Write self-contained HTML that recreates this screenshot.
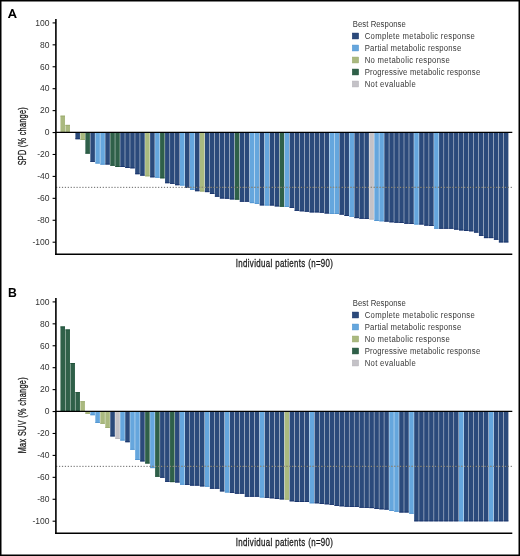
<!DOCTYPE html>
<html><head><meta charset="utf-8"><style>
html,body{margin:0;padding:0;background:#fff;}
body{width:520px;height:556px;overflow:hidden;}
svg{display:block;will-change:transform;}
</style></head><body>
<svg width="520" height="556" viewBox="0 0 520 556">
<rect x="0" y="0" width="520" height="556" fill="#fff"/>
<path fill-rule="evenodd" fill="#000" d="M7.9,17.9 L11.5,8.9 L13.2,8.9 L16.8,17.9 L14.8,17.9 L14.1,16.0 L10.6,16.0 L9.9,17.9 Z M11.15,14.5 L13.55,14.5 L12.35,11.1 Z"/>
<rect x="60.45" y="115.70" width="4.55" height="16.70" fill="#aab97f"/><rect x="60.45" y="115.70" width="4.55" height="0.8" fill="#98a86c"/>
<rect x="65.43" y="124.90" width="4.55" height="7.50" fill="#aab97f"/><rect x="65.43" y="124.90" width="4.55" height="0.8" fill="#98a86c"/>
<rect x="75.40" y="132.40" width="4.55" height="6.80" fill="#2b4a7b"/><rect x="75.40" y="138.40" width="4.55" height="0.8" fill="#16306a"/>
<rect x="80.38" y="132.40" width="4.55" height="7.50" fill="#aab97f"/><rect x="80.38" y="139.10" width="4.55" height="0.8" fill="#98a86c"/>
<rect x="85.36" y="132.40" width="4.55" height="21.20" fill="#2f6049"/><rect x="85.36" y="152.80" width="4.55" height="0.8" fill="#1e5038"/>
<rect x="90.34" y="132.40" width="4.55" height="29.40" fill="#2b4a7b"/><rect x="90.34" y="161.00" width="4.55" height="0.8" fill="#16306a"/>
<rect x="95.32" y="132.40" width="4.55" height="31.10" fill="#65a6dd"/><rect x="95.32" y="162.70" width="4.55" height="0.8" fill="#4f93d0"/>
<rect x="100.31" y="132.40" width="4.55" height="32.20" fill="#65a6dd"/><rect x="100.31" y="163.80" width="4.55" height="0.8" fill="#4f93d0"/>
<rect x="105.29" y="132.40" width="4.55" height="32.10" fill="#2b4a7b"/><rect x="105.29" y="163.70" width="4.55" height="0.8" fill="#16306a"/>
<rect x="110.27" y="132.40" width="4.55" height="33.30" fill="#2f6049"/><rect x="110.27" y="164.90" width="4.55" height="0.8" fill="#1e5038"/>
<rect x="115.25" y="132.40" width="4.55" height="34.60" fill="#2f6049"/><rect x="115.25" y="166.20" width="4.55" height="0.8" fill="#1e5038"/>
<rect x="120.23" y="132.40" width="4.55" height="34.60" fill="#2b4a7b"/><rect x="120.23" y="166.20" width="4.55" height="0.8" fill="#16306a"/>
<rect x="125.22" y="132.40" width="4.55" height="35.60" fill="#2b4a7b"/><rect x="125.22" y="167.20" width="4.55" height="0.8" fill="#16306a"/>
<rect x="130.20" y="132.40" width="4.55" height="35.90" fill="#2b4a7b"/><rect x="130.20" y="167.50" width="4.55" height="0.8" fill="#16306a"/>
<rect x="135.18" y="132.40" width="4.55" height="41.80" fill="#2b4a7b"/><rect x="135.18" y="173.40" width="4.55" height="0.8" fill="#16306a"/>
<rect x="140.16" y="132.40" width="4.55" height="43.20" fill="#2b4a7b"/><rect x="140.16" y="174.80" width="4.55" height="0.8" fill="#16306a"/>
<rect x="145.14" y="132.40" width="4.55" height="43.90" fill="#aab97f"/><rect x="145.14" y="175.50" width="4.55" height="0.8" fill="#98a86c"/>
<rect x="150.13" y="132.40" width="4.55" height="44.90" fill="#2b4a7b"/><rect x="150.13" y="176.50" width="4.55" height="0.8" fill="#16306a"/>
<rect x="155.11" y="132.40" width="4.55" height="45.30" fill="#65a6dd"/><rect x="155.11" y="176.90" width="4.55" height="0.8" fill="#4f93d0"/>
<rect x="160.09" y="132.40" width="4.55" height="45.90" fill="#2f6049"/><rect x="160.09" y="177.50" width="4.55" height="0.8" fill="#1e5038"/>
<rect x="165.07" y="132.40" width="4.55" height="50.80" fill="#2b4a7b"/><rect x="165.07" y="182.40" width="4.55" height="0.8" fill="#16306a"/>
<rect x="170.05" y="132.40" width="4.55" height="51.40" fill="#2b4a7b"/><rect x="170.05" y="183.00" width="4.55" height="0.8" fill="#16306a"/>
<rect x="175.04" y="132.40" width="4.55" height="52.80" fill="#2b4a7b"/><rect x="175.04" y="184.40" width="4.55" height="0.8" fill="#16306a"/>
<rect x="180.02" y="132.40" width="4.55" height="53.10" fill="#65a6dd"/><rect x="180.02" y="184.70" width="4.55" height="0.8" fill="#4f93d0"/>
<rect x="185.00" y="132.40" width="4.55" height="55.40" fill="#2b4a7b"/><rect x="185.00" y="187.00" width="4.55" height="0.8" fill="#16306a"/>
<rect x="189.98" y="132.40" width="4.55" height="57.40" fill="#65a6dd"/><rect x="189.98" y="189.00" width="4.55" height="0.8" fill="#4f93d0"/>
<rect x="194.96" y="132.40" width="4.55" height="58.80" fill="#2b4a7b"/><rect x="194.96" y="190.40" width="4.55" height="0.8" fill="#16306a"/>
<rect x="199.95" y="132.40" width="4.55" height="59.10" fill="#aab97f"/><rect x="199.95" y="190.70" width="4.55" height="0.8" fill="#98a86c"/>
<rect x="204.93" y="132.40" width="4.55" height="59.70" fill="#2b4a7b"/><rect x="204.93" y="191.30" width="4.55" height="0.8" fill="#16306a"/>
<rect x="209.91" y="132.40" width="4.55" height="61.60" fill="#2b4a7b"/><rect x="209.91" y="193.20" width="4.55" height="0.8" fill="#16306a"/>
<rect x="214.89" y="132.40" width="4.55" height="64.30" fill="#2b4a7b"/><rect x="214.89" y="195.90" width="4.55" height="0.8" fill="#16306a"/>
<rect x="219.87" y="132.40" width="4.55" height="66.10" fill="#2b4a7b"/><rect x="219.87" y="197.70" width="4.55" height="0.8" fill="#16306a"/>
<rect x="224.86" y="132.40" width="4.55" height="66.30" fill="#2b4a7b"/><rect x="224.86" y="197.90" width="4.55" height="0.8" fill="#16306a"/>
<rect x="229.84" y="132.40" width="4.55" height="67.00" fill="#2b4a7b"/><rect x="229.84" y="198.60" width="4.55" height="0.8" fill="#16306a"/>
<rect x="234.82" y="132.40" width="4.55" height="67.20" fill="#2f6049"/><rect x="234.82" y="198.80" width="4.55" height="0.8" fill="#1e5038"/>
<rect x="239.80" y="132.40" width="4.55" height="69.30" fill="#2b4a7b"/><rect x="239.80" y="200.90" width="4.55" height="0.8" fill="#16306a"/>
<rect x="244.78" y="132.40" width="4.55" height="69.30" fill="#2b4a7b"/><rect x="244.78" y="200.90" width="4.55" height="0.8" fill="#16306a"/>
<rect x="249.77" y="132.40" width="4.55" height="70.70" fill="#65a6dd"/><rect x="249.77" y="202.30" width="4.55" height="0.8" fill="#4f93d0"/>
<rect x="254.75" y="132.40" width="4.55" height="71.50" fill="#65a6dd"/><rect x="254.75" y="203.10" width="4.55" height="0.8" fill="#4f93d0"/>
<rect x="259.73" y="132.40" width="4.55" height="73.00" fill="#2b4a7b"/><rect x="259.73" y="204.60" width="4.55" height="0.8" fill="#16306a"/>
<rect x="264.71" y="132.40" width="4.55" height="73.10" fill="#65a6dd"/><rect x="264.71" y="204.70" width="4.55" height="0.8" fill="#4f93d0"/>
<rect x="269.69" y="132.40" width="4.55" height="73.10" fill="#2b4a7b"/><rect x="269.69" y="204.70" width="4.55" height="0.8" fill="#16306a"/>
<rect x="274.68" y="132.40" width="4.55" height="74.00" fill="#2b4a7b"/><rect x="274.68" y="205.60" width="4.55" height="0.8" fill="#16306a"/>
<rect x="279.66" y="132.40" width="4.55" height="74.30" fill="#2f6049"/><rect x="279.66" y="205.90" width="4.55" height="0.8" fill="#1e5038"/>
<rect x="284.64" y="132.40" width="4.55" height="74.60" fill="#65a6dd"/><rect x="284.64" y="206.20" width="4.55" height="0.8" fill="#4f93d0"/>
<rect x="289.62" y="132.40" width="4.55" height="75.50" fill="#2b4a7b"/><rect x="289.62" y="207.10" width="4.55" height="0.8" fill="#16306a"/>
<rect x="294.60" y="132.40" width="4.55" height="78.40" fill="#2b4a7b"/><rect x="294.60" y="210.00" width="4.55" height="0.8" fill="#16306a"/>
<rect x="299.59" y="132.40" width="4.55" height="78.90" fill="#2b4a7b"/><rect x="299.59" y="210.50" width="4.55" height="0.8" fill="#16306a"/>
<rect x="304.57" y="132.40" width="4.55" height="79.30" fill="#2b4a7b"/><rect x="304.57" y="210.90" width="4.55" height="0.8" fill="#16306a"/>
<rect x="309.55" y="132.40" width="4.55" height="80.00" fill="#2b4a7b"/><rect x="309.55" y="211.60" width="4.55" height="0.8" fill="#16306a"/>
<rect x="314.53" y="132.40" width="4.55" height="80.00" fill="#2b4a7b"/><rect x="314.53" y="211.60" width="4.55" height="0.8" fill="#16306a"/>
<rect x="319.51" y="132.40" width="4.55" height="80.30" fill="#2b4a7b"/><rect x="319.51" y="211.90" width="4.55" height="0.8" fill="#16306a"/>
<rect x="324.50" y="132.40" width="4.55" height="81.10" fill="#2b4a7b"/><rect x="324.50" y="212.70" width="4.55" height="0.8" fill="#16306a"/>
<rect x="329.48" y="132.40" width="4.55" height="81.40" fill="#65a6dd"/><rect x="329.48" y="213.00" width="4.55" height="0.8" fill="#4f93d0"/>
<rect x="334.46" y="132.40" width="4.55" height="81.60" fill="#65a6dd"/><rect x="334.46" y="213.20" width="4.55" height="0.8" fill="#4f93d0"/>
<rect x="339.44" y="132.40" width="4.55" height="82.20" fill="#2b4a7b"/><rect x="339.44" y="213.80" width="4.55" height="0.8" fill="#16306a"/>
<rect x="344.42" y="132.40" width="4.55" height="83.60" fill="#2b4a7b"/><rect x="344.42" y="215.20" width="4.55" height="0.8" fill="#16306a"/>
<rect x="349.41" y="132.40" width="4.55" height="84.30" fill="#65a6dd"/><rect x="349.41" y="215.90" width="4.55" height="0.8" fill="#4f93d0"/>
<rect x="354.39" y="132.40" width="4.55" height="85.70" fill="#2b4a7b"/><rect x="354.39" y="217.30" width="4.55" height="0.8" fill="#16306a"/>
<rect x="359.37" y="132.40" width="4.55" height="86.30" fill="#2b4a7b"/><rect x="359.37" y="217.90" width="4.55" height="0.8" fill="#16306a"/>
<rect x="364.35" y="132.40" width="4.55" height="86.50" fill="#2b4a7b"/><rect x="364.35" y="218.10" width="4.55" height="0.8" fill="#16306a"/>
<rect x="369.33" y="132.40" width="4.55" height="87.10" fill="#c4c2c7"/><rect x="369.33" y="218.70" width="4.55" height="0.8" fill="#b4b2b8"/>
<rect x="374.32" y="132.40" width="4.55" height="88.60" fill="#65a6dd"/><rect x="374.32" y="220.20" width="4.55" height="0.8" fill="#4f93d0"/>
<rect x="379.30" y="132.40" width="4.55" height="88.90" fill="#65a6dd"/><rect x="379.30" y="220.50" width="4.55" height="0.8" fill="#4f93d0"/>
<rect x="384.28" y="132.40" width="4.55" height="89.20" fill="#2b4a7b"/><rect x="384.28" y="220.80" width="4.55" height="0.8" fill="#16306a"/>
<rect x="389.26" y="132.40" width="4.55" height="89.90" fill="#2b4a7b"/><rect x="389.26" y="221.50" width="4.55" height="0.8" fill="#16306a"/>
<rect x="394.24" y="132.40" width="4.55" height="90.30" fill="#2b4a7b"/><rect x="394.24" y="221.90" width="4.55" height="0.8" fill="#16306a"/>
<rect x="399.23" y="132.40" width="4.55" height="90.60" fill="#2b4a7b"/><rect x="399.23" y="222.20" width="4.55" height="0.8" fill="#16306a"/>
<rect x="404.21" y="132.40" width="4.55" height="91.30" fill="#2b4a7b"/><rect x="404.21" y="222.90" width="4.55" height="0.8" fill="#16306a"/>
<rect x="409.19" y="132.40" width="4.55" height="91.50" fill="#2b4a7b"/><rect x="409.19" y="223.10" width="4.55" height="0.8" fill="#16306a"/>
<rect x="414.17" y="132.40" width="4.55" height="92.10" fill="#65a6dd"/><rect x="414.17" y="223.70" width="4.55" height="0.8" fill="#4f93d0"/>
<rect x="419.15" y="132.40" width="4.55" height="92.10" fill="#2b4a7b"/><rect x="419.15" y="223.70" width="4.55" height="0.8" fill="#16306a"/>
<rect x="424.14" y="132.40" width="4.55" height="93.20" fill="#2b4a7b"/><rect x="424.14" y="224.80" width="4.55" height="0.8" fill="#16306a"/>
<rect x="429.12" y="132.40" width="4.55" height="93.60" fill="#2b4a7b"/><rect x="429.12" y="225.20" width="4.55" height="0.8" fill="#16306a"/>
<rect x="434.10" y="132.40" width="4.55" height="96.30" fill="#65a6dd"/><rect x="434.10" y="227.90" width="4.55" height="0.8" fill="#4f93d0"/>
<rect x="439.08" y="132.40" width="4.55" height="96.30" fill="#2b4a7b"/><rect x="439.08" y="227.90" width="4.55" height="0.8" fill="#16306a"/>
<rect x="444.06" y="132.40" width="4.55" height="96.30" fill="#2b4a7b"/><rect x="444.06" y="227.90" width="4.55" height="0.8" fill="#16306a"/>
<rect x="449.05" y="132.40" width="4.55" height="96.30" fill="#2b4a7b"/><rect x="449.05" y="227.90" width="4.55" height="0.8" fill="#16306a"/>
<rect x="454.03" y="132.40" width="4.55" height="97.20" fill="#2b4a7b"/><rect x="454.03" y="228.80" width="4.55" height="0.8" fill="#16306a"/>
<rect x="459.01" y="132.40" width="4.55" height="98.00" fill="#2b4a7b"/><rect x="459.01" y="229.60" width="4.55" height="0.8" fill="#16306a"/>
<rect x="463.99" y="132.40" width="4.55" height="98.60" fill="#2b4a7b"/><rect x="463.99" y="230.20" width="4.55" height="0.8" fill="#16306a"/>
<rect x="468.97" y="132.40" width="4.55" height="98.90" fill="#2b4a7b"/><rect x="468.97" y="230.50" width="4.55" height="0.8" fill="#16306a"/>
<rect x="473.96" y="132.40" width="4.55" height="100.20" fill="#2b4a7b"/><rect x="473.96" y="231.80" width="4.55" height="0.8" fill="#16306a"/>
<rect x="478.94" y="132.40" width="4.55" height="103.40" fill="#2b4a7b"/><rect x="478.94" y="235.00" width="4.55" height="0.8" fill="#16306a"/>
<rect x="483.92" y="132.40" width="4.55" height="105.70" fill="#2b4a7b"/><rect x="483.92" y="237.30" width="4.55" height="0.8" fill="#16306a"/>
<rect x="488.90" y="132.40" width="4.55" height="105.70" fill="#2b4a7b"/><rect x="488.90" y="237.30" width="4.55" height="0.8" fill="#16306a"/>
<rect x="493.88" y="132.40" width="4.55" height="107.30" fill="#2b4a7b"/><rect x="493.88" y="238.90" width="4.55" height="0.8" fill="#16306a"/>
<rect x="498.87" y="132.40" width="4.55" height="110.00" fill="#2b4a7b"/><rect x="498.87" y="241.60" width="4.55" height="0.8" fill="#16306a"/>
<rect x="503.85" y="132.40" width="4.55" height="110.00" fill="#2b4a7b"/><rect x="503.85" y="241.60" width="4.55" height="0.8" fill="#16306a"/>
<line x1="56.1" y1="187.35" x2="512" y2="187.35" stroke="#5e5e5e" stroke-width="0.95" stroke-dasharray="1.2 1.714"/>
<line x1="56.1" y1="187.35" x2="512" y2="187.35" stroke="#9a9480" stroke-width="0.95" stroke-dasharray="1.2 1.714" clip-path="url(#clipA)"/>
<clipPath id="clipA"><rect x="185.00" y="180" width="323.40" height="15"/></clipPath>
<line x1="56" y1="132.4" x2="512.3" y2="132.4" stroke="#000" stroke-width="1.3"/>
<line x1="55.9" y1="19" x2="55.9" y2="255.1" stroke="#000" stroke-width="1.6"/>
<line x1="55.1" y1="254.3" x2="512.3" y2="254.3" stroke="#000" stroke-width="1.6"/>
<line x1="52.6" y1="22.90" x2="56" y2="22.90" stroke="#000" stroke-width="1.1"/>
<text transform="translate(49.5,25.70) scale(0.96,1.04)" text-anchor="end" font-family="Liberation Sans" font-size="8.9" fill="#333">100</text>
<line x1="52.6" y1="44.83" x2="56" y2="44.83" stroke="#000" stroke-width="1.1"/>
<text transform="translate(49.5,47.63) scale(0.96,1.04)" text-anchor="end" font-family="Liberation Sans" font-size="8.9" fill="#333">80</text>
<line x1="52.6" y1="66.76" x2="56" y2="66.76" stroke="#000" stroke-width="1.1"/>
<text transform="translate(49.5,69.56) scale(0.96,1.04)" text-anchor="end" font-family="Liberation Sans" font-size="8.9" fill="#333">60</text>
<line x1="52.6" y1="88.69" x2="56" y2="88.69" stroke="#000" stroke-width="1.1"/>
<text transform="translate(49.5,91.49) scale(0.96,1.04)" text-anchor="end" font-family="Liberation Sans" font-size="8.9" fill="#333">40</text>
<line x1="52.6" y1="110.62" x2="56" y2="110.62" stroke="#000" stroke-width="1.1"/>
<text transform="translate(49.5,113.42) scale(0.96,1.04)" text-anchor="end" font-family="Liberation Sans" font-size="8.9" fill="#333">20</text>
<line x1="52.6" y1="132.55" x2="56" y2="132.55" stroke="#000" stroke-width="1.1"/>
<text transform="translate(49.5,135.35) scale(0.96,1.04)" text-anchor="end" font-family="Liberation Sans" font-size="8.9" fill="#333">0</text>
<line x1="52.6" y1="154.48" x2="56" y2="154.48" stroke="#000" stroke-width="1.1"/>
<text transform="translate(49.5,157.28) scale(0.96,1.04)" text-anchor="end" font-family="Liberation Sans" font-size="8.9" fill="#333">-20</text>
<line x1="52.6" y1="176.41" x2="56" y2="176.41" stroke="#000" stroke-width="1.1"/>
<text transform="translate(49.5,179.21) scale(0.96,1.04)" text-anchor="end" font-family="Liberation Sans" font-size="8.9" fill="#333">-40</text>
<line x1="52.6" y1="198.34" x2="56" y2="198.34" stroke="#000" stroke-width="1.1"/>
<text transform="translate(49.5,201.14) scale(0.96,1.04)" text-anchor="end" font-family="Liberation Sans" font-size="8.9" fill="#333">-60</text>
<line x1="52.6" y1="220.27" x2="56" y2="220.27" stroke="#000" stroke-width="1.1"/>
<text transform="translate(49.5,223.07) scale(0.96,1.04)" text-anchor="end" font-family="Liberation Sans" font-size="8.9" fill="#333">-80</text>
<line x1="52.6" y1="242.20" x2="56" y2="242.20" stroke="#000" stroke-width="1.1"/>
<text transform="translate(49.5,245.00) scale(0.96,1.04)" text-anchor="end" font-family="Liberation Sans" font-size="8.9" fill="#333">-100</text>
<text transform="translate(26,136.3) rotate(-90) scale(0.66,1)" text-anchor="middle" font-family="Liberation Sans" font-size="11" fill="#1a1a1a" stroke="#1a1a1a" stroke-width="0.3" textLength="87.88" lengthAdjust="spacing">SPD (% change)</text>
<text transform="translate(235.7,267.1) scale(0.72,1)" x="0" y="0" font-family="Liberation Sans" font-size="11" fill="#1a1a1a" stroke="#1a1a1a" stroke-width="0.3" textLength="135.14" lengthAdjust="spacing">Individual patients (n=90)</text>
<text transform="translate(352.8,26.6) scale(0.85,1)" font-family="Liberation Sans" font-size="9.1" fill="#383838" textLength="62.35" lengthAdjust="spacing">Best Response</text>
<rect x="352.3" y="33.05" width="6.3" height="5.9" fill="#2b4a7b" stroke="#16306a" stroke-width="0.5"/>
<text transform="translate(364.7,38.90) scale(0.85,1)" font-family="Liberation Sans" font-size="9.1" fill="#383838" textLength="129.41" lengthAdjust="spacing">Complete metabolic response</text>
<rect x="352.3" y="45.05" width="6.3" height="5.9" fill="#65a6dd" stroke="#4f93d0" stroke-width="0.5"/>
<text transform="translate(364.7,50.90) scale(0.85,1)" font-family="Liberation Sans" font-size="9.1" fill="#383838" textLength="113.53" lengthAdjust="spacing">Partial metabolic response</text>
<rect x="352.3" y="57.05" width="6.3" height="5.9" fill="#aab97f" stroke="#98a86c" stroke-width="0.5"/>
<text transform="translate(364.7,62.90) scale(0.85,1)" font-family="Liberation Sans" font-size="9.1" fill="#383838" textLength="100.00" lengthAdjust="spacing">No metabolic response</text>
<rect x="352.3" y="69.05" width="6.3" height="5.9" fill="#2f6049" stroke="#1e5038" stroke-width="0.5"/>
<text transform="translate(364.7,74.90) scale(0.85,1)" font-family="Liberation Sans" font-size="9.1" fill="#383838" textLength="135.88" lengthAdjust="spacing">Progressive metabolic response</text>
<rect x="352.3" y="81.05" width="6.3" height="5.9" fill="#c4c2c7" stroke="#b4b2b8" stroke-width="0.5"/>
<text transform="translate(364.7,86.90) scale(0.85,1)" font-family="Liberation Sans" font-size="9.1" fill="#383838" textLength="60.00" lengthAdjust="spacing">Not evaluable</text>
<text x="7.9" y="297.1" font-family="Liberation Sans" font-weight="bold" font-size="12.2" fill="#000">B</text>
<rect x="60.45" y="326.50" width="4.55" height="84.90" fill="#2f6049"/><rect x="60.45" y="326.50" width="4.55" height="0.8" fill="#1e5038"/>
<rect x="65.43" y="329.50" width="4.55" height="81.90" fill="#2f6049"/><rect x="65.43" y="329.50" width="4.55" height="0.8" fill="#1e5038"/>
<rect x="70.41" y="363.00" width="4.55" height="48.40" fill="#2f6049"/><rect x="70.41" y="363.00" width="4.55" height="0.8" fill="#1e5038"/>
<rect x="75.40" y="392.20" width="4.55" height="19.20" fill="#2f6049"/><rect x="75.40" y="392.20" width="4.55" height="0.8" fill="#1e5038"/>
<rect x="80.38" y="401.30" width="4.55" height="10.10" fill="#aab97f"/><rect x="80.38" y="401.30" width="4.55" height="0.8" fill="#98a86c"/>
<rect x="85.36" y="411.40" width="4.55" height="2.30" fill="#aab97f"/><rect x="85.36" y="412.90" width="4.55" height="0.8" fill="#98a86c"/>
<rect x="90.34" y="411.40" width="4.55" height="3.80" fill="#65a6dd"/><rect x="90.34" y="414.40" width="4.55" height="0.8" fill="#4f93d0"/>
<rect x="95.32" y="411.40" width="4.55" height="11.50" fill="#65a6dd"/><rect x="95.32" y="422.10" width="4.55" height="0.8" fill="#4f93d0"/>
<rect x="100.31" y="411.40" width="4.55" height="12.30" fill="#aab97f"/><rect x="100.31" y="422.90" width="4.55" height="0.8" fill="#98a86c"/>
<rect x="105.29" y="411.40" width="4.55" height="16.40" fill="#aab97f"/><rect x="105.29" y="427.00" width="4.55" height="0.8" fill="#98a86c"/>
<rect x="110.27" y="411.40" width="4.55" height="25.00" fill="#2b4a7b"/><rect x="110.27" y="435.60" width="4.55" height="0.8" fill="#16306a"/>
<rect x="115.25" y="411.40" width="4.55" height="27.40" fill="#c4c2c7"/><rect x="115.25" y="438.00" width="4.55" height="0.8" fill="#b4b2b8"/>
<rect x="120.23" y="411.40" width="4.55" height="29.10" fill="#65a6dd"/><rect x="120.23" y="439.70" width="4.55" height="0.8" fill="#4f93d0"/>
<rect x="125.22" y="411.40" width="4.55" height="30.80" fill="#2b4a7b"/><rect x="125.22" y="441.40" width="4.55" height="0.8" fill="#16306a"/>
<rect x="130.20" y="411.40" width="4.55" height="38.30" fill="#65a6dd"/><rect x="130.20" y="448.90" width="4.55" height="0.8" fill="#4f93d0"/>
<rect x="135.18" y="411.40" width="4.55" height="48.60" fill="#65a6dd"/><rect x="135.18" y="459.20" width="4.55" height="0.8" fill="#4f93d0"/>
<rect x="140.16" y="411.40" width="4.55" height="50.00" fill="#2b4a7b"/><rect x="140.16" y="460.60" width="4.55" height="0.8" fill="#16306a"/>
<rect x="145.14" y="411.40" width="4.55" height="52.10" fill="#2f6049"/><rect x="145.14" y="462.70" width="4.55" height="0.8" fill="#1e5038"/>
<rect x="150.13" y="411.40" width="4.55" height="56.70" fill="#65a6dd"/><rect x="150.13" y="467.30" width="4.55" height="0.8" fill="#4f93d0"/>
<rect x="155.11" y="411.40" width="4.55" height="65.30" fill="#2f6049"/><rect x="155.11" y="475.90" width="4.55" height="0.8" fill="#1e5038"/>
<rect x="160.09" y="411.40" width="4.55" height="66.30" fill="#2b4a7b"/><rect x="160.09" y="476.90" width="4.55" height="0.8" fill="#16306a"/>
<rect x="165.07" y="411.40" width="4.55" height="70.40" fill="#2b4a7b"/><rect x="165.07" y="481.00" width="4.55" height="0.8" fill="#16306a"/>
<rect x="170.05" y="411.40" width="4.55" height="70.70" fill="#2f6049"/><rect x="170.05" y="481.30" width="4.55" height="0.8" fill="#1e5038"/>
<rect x="175.04" y="411.40" width="4.55" height="71.10" fill="#2b4a7b"/><rect x="175.04" y="481.70" width="4.55" height="0.8" fill="#16306a"/>
<rect x="180.02" y="411.40" width="4.55" height="73.30" fill="#65a6dd"/><rect x="180.02" y="483.90" width="4.55" height="0.8" fill="#4f93d0"/>
<rect x="185.00" y="411.40" width="4.55" height="73.40" fill="#2b4a7b"/><rect x="185.00" y="484.00" width="4.55" height="0.8" fill="#16306a"/>
<rect x="189.98" y="411.40" width="4.55" height="74.20" fill="#2b4a7b"/><rect x="189.98" y="484.80" width="4.55" height="0.8" fill="#16306a"/>
<rect x="194.96" y="411.40" width="4.55" height="74.20" fill="#2b4a7b"/><rect x="194.96" y="484.80" width="4.55" height="0.8" fill="#16306a"/>
<rect x="199.95" y="411.40" width="4.55" height="75.00" fill="#2b4a7b"/><rect x="199.95" y="485.60" width="4.55" height="0.8" fill="#16306a"/>
<rect x="204.93" y="411.40" width="4.55" height="75.30" fill="#65a6dd"/><rect x="204.93" y="485.90" width="4.55" height="0.8" fill="#4f93d0"/>
<rect x="209.91" y="411.40" width="4.55" height="77.30" fill="#2b4a7b"/><rect x="209.91" y="487.90" width="4.55" height="0.8" fill="#16306a"/>
<rect x="214.89" y="411.40" width="4.55" height="77.30" fill="#2b4a7b"/><rect x="214.89" y="487.90" width="4.55" height="0.8" fill="#16306a"/>
<rect x="219.87" y="411.40" width="4.55" height="80.00" fill="#2b4a7b"/><rect x="219.87" y="490.60" width="4.55" height="0.8" fill="#16306a"/>
<rect x="224.86" y="411.40" width="4.55" height="81.10" fill="#65a6dd"/><rect x="224.86" y="491.70" width="4.55" height="0.8" fill="#4f93d0"/>
<rect x="229.84" y="411.40" width="4.55" height="81.50" fill="#2b4a7b"/><rect x="229.84" y="492.10" width="4.55" height="0.8" fill="#16306a"/>
<rect x="234.82" y="411.40" width="4.55" height="82.30" fill="#2b4a7b"/><rect x="234.82" y="492.90" width="4.55" height="0.8" fill="#16306a"/>
<rect x="239.80" y="411.40" width="4.55" height="82.30" fill="#2b4a7b"/><rect x="239.80" y="492.90" width="4.55" height="0.8" fill="#16306a"/>
<rect x="244.78" y="411.40" width="4.55" height="85.30" fill="#2b4a7b"/><rect x="244.78" y="495.90" width="4.55" height="0.8" fill="#16306a"/>
<rect x="249.77" y="411.40" width="4.55" height="85.30" fill="#2b4a7b"/><rect x="249.77" y="495.90" width="4.55" height="0.8" fill="#16306a"/>
<rect x="254.75" y="411.40" width="4.55" height="85.30" fill="#2b4a7b"/><rect x="254.75" y="495.90" width="4.55" height="0.8" fill="#16306a"/>
<rect x="259.73" y="411.40" width="4.55" height="86.10" fill="#65a6dd"/><rect x="259.73" y="496.70" width="4.55" height="0.8" fill="#4f93d0"/>
<rect x="264.71" y="411.40" width="4.55" height="86.40" fill="#2b4a7b"/><rect x="264.71" y="497.00" width="4.55" height="0.8" fill="#16306a"/>
<rect x="269.69" y="411.40" width="4.55" height="86.90" fill="#2b4a7b"/><rect x="269.69" y="497.50" width="4.55" height="0.8" fill="#16306a"/>
<rect x="274.68" y="411.40" width="4.55" height="87.60" fill="#2b4a7b"/><rect x="274.68" y="498.20" width="4.55" height="0.8" fill="#16306a"/>
<rect x="279.66" y="411.40" width="4.55" height="88.00" fill="#2b4a7b"/><rect x="279.66" y="498.60" width="4.55" height="0.8" fill="#16306a"/>
<rect x="284.64" y="411.40" width="4.55" height="88.20" fill="#aab97f"/><rect x="284.64" y="498.80" width="4.55" height="0.8" fill="#98a86c"/>
<rect x="289.62" y="411.40" width="4.55" height="89.90" fill="#2b4a7b"/><rect x="289.62" y="500.50" width="4.55" height="0.8" fill="#16306a"/>
<rect x="294.60" y="411.40" width="4.55" height="90.60" fill="#2b4a7b"/><rect x="294.60" y="501.20" width="4.55" height="0.8" fill="#16306a"/>
<rect x="299.59" y="411.40" width="4.55" height="90.60" fill="#2b4a7b"/><rect x="299.59" y="501.20" width="4.55" height="0.8" fill="#16306a"/>
<rect x="304.57" y="411.40" width="4.55" height="90.60" fill="#2b4a7b"/><rect x="304.57" y="501.20" width="4.55" height="0.8" fill="#16306a"/>
<rect x="309.55" y="411.40" width="4.55" height="91.90" fill="#65a6dd"/><rect x="309.55" y="502.50" width="4.55" height="0.8" fill="#4f93d0"/>
<rect x="314.53" y="411.40" width="4.55" height="91.90" fill="#2b4a7b"/><rect x="314.53" y="502.50" width="4.55" height="0.8" fill="#16306a"/>
<rect x="319.51" y="411.40" width="4.55" height="92.50" fill="#2b4a7b"/><rect x="319.51" y="503.10" width="4.55" height="0.8" fill="#16306a"/>
<rect x="324.50" y="411.40" width="4.55" height="92.90" fill="#2b4a7b"/><rect x="324.50" y="503.50" width="4.55" height="0.8" fill="#16306a"/>
<rect x="329.48" y="411.40" width="4.55" height="93.40" fill="#2b4a7b"/><rect x="329.48" y="504.00" width="4.55" height="0.8" fill="#16306a"/>
<rect x="334.46" y="411.40" width="4.55" height="94.40" fill="#2b4a7b"/><rect x="334.46" y="505.00" width="4.55" height="0.8" fill="#16306a"/>
<rect x="339.44" y="411.40" width="4.55" height="94.90" fill="#2b4a7b"/><rect x="339.44" y="505.50" width="4.55" height="0.8" fill="#16306a"/>
<rect x="344.42" y="411.40" width="4.55" height="95.30" fill="#2b4a7b"/><rect x="344.42" y="505.90" width="4.55" height="0.8" fill="#16306a"/>
<rect x="349.41" y="411.40" width="4.55" height="95.50" fill="#2b4a7b"/><rect x="349.41" y="506.10" width="4.55" height="0.8" fill="#16306a"/>
<rect x="354.39" y="411.40" width="4.55" height="95.50" fill="#2b4a7b"/><rect x="354.39" y="506.10" width="4.55" height="0.8" fill="#16306a"/>
<rect x="359.37" y="411.40" width="4.55" height="96.30" fill="#2b4a7b"/><rect x="359.37" y="506.90" width="4.55" height="0.8" fill="#16306a"/>
<rect x="364.35" y="411.40" width="4.55" height="96.40" fill="#2b4a7b"/><rect x="364.35" y="507.00" width="4.55" height="0.8" fill="#16306a"/>
<rect x="369.33" y="411.40" width="4.55" height="96.70" fill="#2b4a7b"/><rect x="369.33" y="507.30" width="4.55" height="0.8" fill="#16306a"/>
<rect x="374.32" y="411.40" width="4.55" height="97.50" fill="#2b4a7b"/><rect x="374.32" y="508.10" width="4.55" height="0.8" fill="#16306a"/>
<rect x="379.30" y="411.40" width="4.55" height="97.90" fill="#2b4a7b"/><rect x="379.30" y="508.50" width="4.55" height="0.8" fill="#16306a"/>
<rect x="384.28" y="411.40" width="4.55" height="98.20" fill="#2b4a7b"/><rect x="384.28" y="508.80" width="4.55" height="0.8" fill="#16306a"/>
<rect x="389.26" y="411.40" width="4.55" height="99.60" fill="#65a6dd"/><rect x="389.26" y="510.20" width="4.55" height="0.8" fill="#4f93d0"/>
<rect x="394.24" y="411.40" width="4.55" height="100.30" fill="#65a6dd"/><rect x="394.24" y="510.90" width="4.55" height="0.8" fill="#4f93d0"/>
<rect x="399.23" y="411.40" width="4.55" height="101.10" fill="#2b4a7b"/><rect x="399.23" y="511.70" width="4.55" height="0.8" fill="#16306a"/>
<rect x="404.21" y="411.40" width="4.55" height="101.10" fill="#2b4a7b"/><rect x="404.21" y="511.70" width="4.55" height="0.8" fill="#16306a"/>
<rect x="409.19" y="411.40" width="4.55" height="102.30" fill="#65a6dd"/><rect x="409.19" y="512.90" width="4.55" height="0.8" fill="#4f93d0"/>
<rect x="414.17" y="411.40" width="4.55" height="109.90" fill="#2b4a7b"/><rect x="414.17" y="520.50" width="4.55" height="0.8" fill="#16306a"/>
<rect x="419.15" y="411.40" width="4.55" height="109.90" fill="#2b4a7b"/><rect x="419.15" y="520.50" width="4.55" height="0.8" fill="#16306a"/>
<rect x="424.14" y="411.40" width="4.55" height="109.90" fill="#2b4a7b"/><rect x="424.14" y="520.50" width="4.55" height="0.8" fill="#16306a"/>
<rect x="429.12" y="411.40" width="4.55" height="109.90" fill="#2b4a7b"/><rect x="429.12" y="520.50" width="4.55" height="0.8" fill="#16306a"/>
<rect x="434.10" y="411.40" width="4.55" height="109.90" fill="#2b4a7b"/><rect x="434.10" y="520.50" width="4.55" height="0.8" fill="#16306a"/>
<rect x="439.08" y="411.40" width="4.55" height="109.90" fill="#2b4a7b"/><rect x="439.08" y="520.50" width="4.55" height="0.8" fill="#16306a"/>
<rect x="444.06" y="411.40" width="4.55" height="109.90" fill="#2b4a7b"/><rect x="444.06" y="520.50" width="4.55" height="0.8" fill="#16306a"/>
<rect x="449.05" y="411.40" width="4.55" height="109.90" fill="#2b4a7b"/><rect x="449.05" y="520.50" width="4.55" height="0.8" fill="#16306a"/>
<rect x="454.03" y="411.40" width="4.55" height="109.90" fill="#2b4a7b"/><rect x="454.03" y="520.50" width="4.55" height="0.8" fill="#16306a"/>
<rect x="459.01" y="411.40" width="4.55" height="109.90" fill="#65a6dd"/><rect x="459.01" y="520.50" width="4.55" height="0.8" fill="#4f93d0"/>
<rect x="463.99" y="411.40" width="4.55" height="109.90" fill="#2b4a7b"/><rect x="463.99" y="520.50" width="4.55" height="0.8" fill="#16306a"/>
<rect x="468.97" y="411.40" width="4.55" height="109.90" fill="#2b4a7b"/><rect x="468.97" y="520.50" width="4.55" height="0.8" fill="#16306a"/>
<rect x="473.96" y="411.40" width="4.55" height="109.90" fill="#2b4a7b"/><rect x="473.96" y="520.50" width="4.55" height="0.8" fill="#16306a"/>
<rect x="478.94" y="411.40" width="4.55" height="109.90" fill="#2b4a7b"/><rect x="478.94" y="520.50" width="4.55" height="0.8" fill="#16306a"/>
<rect x="483.92" y="411.40" width="4.55" height="109.90" fill="#2b4a7b"/><rect x="483.92" y="520.50" width="4.55" height="0.8" fill="#16306a"/>
<rect x="488.90" y="411.40" width="4.55" height="109.90" fill="#65a6dd"/><rect x="488.90" y="520.50" width="4.55" height="0.8" fill="#4f93d0"/>
<rect x="493.88" y="411.40" width="4.55" height="109.90" fill="#2b4a7b"/><rect x="493.88" y="520.50" width="4.55" height="0.8" fill="#16306a"/>
<rect x="498.87" y="411.40" width="4.55" height="109.90" fill="#2b4a7b"/><rect x="498.87" y="520.50" width="4.55" height="0.8" fill="#16306a"/>
<rect x="503.85" y="411.40" width="4.55" height="109.90" fill="#2b4a7b"/><rect x="503.85" y="520.50" width="4.55" height="0.8" fill="#16306a"/>
<line x1="56.1" y1="466.35" x2="512" y2="466.35" stroke="#5e5e5e" stroke-width="0.95" stroke-dasharray="1.2 1.714"/>
<line x1="56.1" y1="466.35" x2="512" y2="466.35" stroke="#9a9480" stroke-width="0.95" stroke-dasharray="1.2 1.714" clip-path="url(#clipB)"/>
<clipPath id="clipB"><rect x="150.13" y="459" width="358.27" height="15"/></clipPath>
<line x1="56" y1="411.4" x2="512.3" y2="411.4" stroke="#000" stroke-width="1.3"/>
<line x1="55.9" y1="298" x2="55.9" y2="534.1" stroke="#000" stroke-width="1.6"/>
<line x1="55.1" y1="533.3" x2="512.3" y2="533.3" stroke="#000" stroke-width="1.6"/>
<line x1="52.6" y1="301.90" x2="56" y2="301.90" stroke="#000" stroke-width="1.1"/>
<text transform="translate(49.5,304.70) scale(0.96,1.04)" text-anchor="end" font-family="Liberation Sans" font-size="8.9" fill="#333">100</text>
<line x1="52.6" y1="323.83" x2="56" y2="323.83" stroke="#000" stroke-width="1.1"/>
<text transform="translate(49.5,326.63) scale(0.96,1.04)" text-anchor="end" font-family="Liberation Sans" font-size="8.9" fill="#333">80</text>
<line x1="52.6" y1="345.76" x2="56" y2="345.76" stroke="#000" stroke-width="1.1"/>
<text transform="translate(49.5,348.56) scale(0.96,1.04)" text-anchor="end" font-family="Liberation Sans" font-size="8.9" fill="#333">60</text>
<line x1="52.6" y1="367.69" x2="56" y2="367.69" stroke="#000" stroke-width="1.1"/>
<text transform="translate(49.5,370.49) scale(0.96,1.04)" text-anchor="end" font-family="Liberation Sans" font-size="8.9" fill="#333">40</text>
<line x1="52.6" y1="389.62" x2="56" y2="389.62" stroke="#000" stroke-width="1.1"/>
<text transform="translate(49.5,392.42) scale(0.96,1.04)" text-anchor="end" font-family="Liberation Sans" font-size="8.9" fill="#333">20</text>
<line x1="52.6" y1="411.55" x2="56" y2="411.55" stroke="#000" stroke-width="1.1"/>
<text transform="translate(49.5,414.35) scale(0.96,1.04)" text-anchor="end" font-family="Liberation Sans" font-size="8.9" fill="#333">0</text>
<line x1="52.6" y1="433.48" x2="56" y2="433.48" stroke="#000" stroke-width="1.1"/>
<text transform="translate(49.5,436.28) scale(0.96,1.04)" text-anchor="end" font-family="Liberation Sans" font-size="8.9" fill="#333">-20</text>
<line x1="52.6" y1="455.41" x2="56" y2="455.41" stroke="#000" stroke-width="1.1"/>
<text transform="translate(49.5,458.21) scale(0.96,1.04)" text-anchor="end" font-family="Liberation Sans" font-size="8.9" fill="#333">-40</text>
<line x1="52.6" y1="477.34" x2="56" y2="477.34" stroke="#000" stroke-width="1.1"/>
<text transform="translate(49.5,480.14) scale(0.96,1.04)" text-anchor="end" font-family="Liberation Sans" font-size="8.9" fill="#333">-60</text>
<line x1="52.6" y1="499.27" x2="56" y2="499.27" stroke="#000" stroke-width="1.1"/>
<text transform="translate(49.5,502.07) scale(0.96,1.04)" text-anchor="end" font-family="Liberation Sans" font-size="8.9" fill="#333">-80</text>
<line x1="52.6" y1="521.20" x2="56" y2="521.20" stroke="#000" stroke-width="1.1"/>
<text transform="translate(49.5,524.00) scale(0.96,1.04)" text-anchor="end" font-family="Liberation Sans" font-size="8.9" fill="#333">-100</text>
<text transform="translate(26,415.3) rotate(-90) scale(0.66,1)" text-anchor="middle" font-family="Liberation Sans" font-size="11" fill="#1a1a1a" stroke="#1a1a1a" stroke-width="0.3" textLength="115.15" lengthAdjust="spacing">Max SUV (% change)</text>
<text transform="translate(235.7,546.1) scale(0.72,1)" x="0" y="0" font-family="Liberation Sans" font-size="11" fill="#1a1a1a" stroke="#1a1a1a" stroke-width="0.3" textLength="135.14" lengthAdjust="spacing">Individual patients (n=90)</text>
<text transform="translate(352.8,305.6) scale(0.85,1)" font-family="Liberation Sans" font-size="9.1" fill="#383838" textLength="62.35" lengthAdjust="spacing">Best Response</text>
<rect x="352.3" y="312.05" width="6.3" height="5.9" fill="#2b4a7b" stroke="#16306a" stroke-width="0.5"/>
<text transform="translate(364.7,317.90) scale(0.85,1)" font-family="Liberation Sans" font-size="9.1" fill="#383838" textLength="129.41" lengthAdjust="spacing">Complete metabolic response</text>
<rect x="352.3" y="324.05" width="6.3" height="5.9" fill="#65a6dd" stroke="#4f93d0" stroke-width="0.5"/>
<text transform="translate(364.7,329.90) scale(0.85,1)" font-family="Liberation Sans" font-size="9.1" fill="#383838" textLength="113.53" lengthAdjust="spacing">Partial metabolic response</text>
<rect x="352.3" y="336.05" width="6.3" height="5.9" fill="#aab97f" stroke="#98a86c" stroke-width="0.5"/>
<text transform="translate(364.7,341.90) scale(0.85,1)" font-family="Liberation Sans" font-size="9.1" fill="#383838" textLength="100.00" lengthAdjust="spacing">No metabolic response</text>
<rect x="352.3" y="348.05" width="6.3" height="5.9" fill="#2f6049" stroke="#1e5038" stroke-width="0.5"/>
<text transform="translate(364.7,353.90) scale(0.85,1)" font-family="Liberation Sans" font-size="9.1" fill="#383838" textLength="135.88" lengthAdjust="spacing">Progressive metabolic response</text>
<rect x="352.3" y="360.05" width="6.3" height="5.9" fill="#c4c2c7" stroke="#b4b2b8" stroke-width="0.5"/>
<text transform="translate(364.7,365.90) scale(0.85,1)" font-family="Liberation Sans" font-size="9.1" fill="#383838" textLength="60.00" lengthAdjust="spacing">Not evaluable</text>
<rect x="0.75" y="0.75" width="518.5" height="554.5" fill="none" stroke="#000" stroke-width="1.5"/>
</svg>
</body></html>
